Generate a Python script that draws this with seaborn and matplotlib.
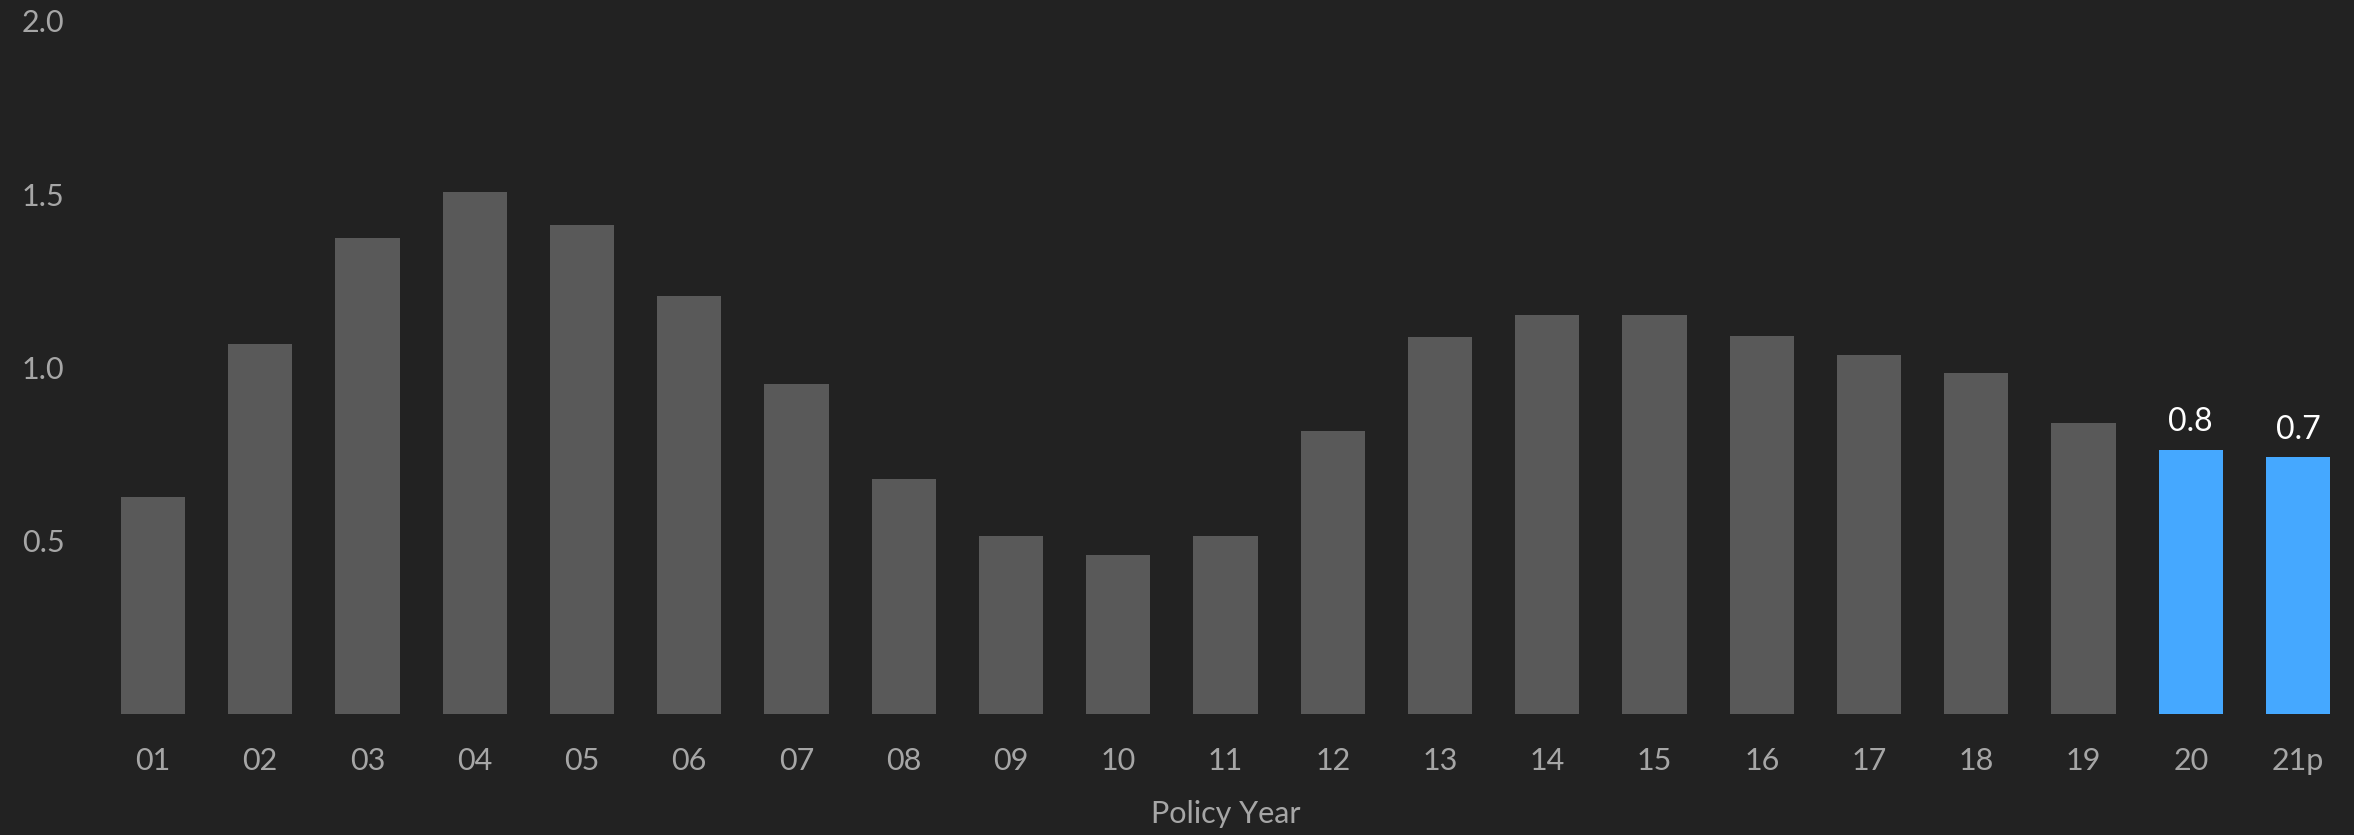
import matplotlib
matplotlib.use("Agg")
import matplotlib.pyplot as plt
import seaborn as sns
import pandas as pd

years = ["01", "02", "03", "04", "05", "06", "07", "08", "09", "10", "11",
         "12", "13", "14", "15", "16", "17", "18", "19", "20", "21p"]
values = [0.626, 1.068, 1.373, 1.505, 1.411, 1.205, 0.951, 0.678, 0.513, 0.457,
          0.513, 0.817, 1.086, 1.151, 1.151, 1.091, 1.035, 0.983, 0.839, 0.762, 0.740]
highlight = [False] * 19 + [True, True]
y_ticks = [0.5, 1.0, 1.5, 2.0]
x_label = "Policy Year"

BG = "#222222"
GRAY = "#595959"
BLUE = "#45A8FF"
TXT = "#A6A6A6"

sns.set_theme(style="dark")
plt.rcParams["font.family"] = ["Lato", "DejaVu Sans"]

df = pd.DataFrame({"year": years, "value": values,
                   "group": ["hi" if h else "base" for h in highlight]})

fig = plt.figure(figsize=(23.54, 8.35), dpi=100, facecolor=BG)
ax = fig.add_axes([0.0422, 0.1455, 0.9568, 0.8295])
ax.set_facecolor(BG)

sns.barplot(data=df, x="year", y="value", hue="group",
            palette={"base": GRAY, "hi": BLUE}, width=0.6, dodge=False,
            saturation=1, legend=False, ax=ax, edgecolor="none", linewidth=0)

for i, (v, h) in enumerate(zip(values, highlight)):
    if h:
        ax.annotate(f"{v:.1f}", (i, v), xytext=(0, 9), textcoords="offset points",
                    ha="center", va="bottom", color="white", fontsize=23)

ax.set_xlim(-0.5, len(years) - 0.5)
ax.set_ylim(0, 2.0)
ax.set_yticks(y_ticks)
ax.set_yticklabels([f"{t:.1f}" for t in y_ticks])
ax.tick_params(axis="both", length=0, colors=TXT, labelsize=22)
ax.tick_params(axis="y", pad=25)
ax.tick_params(axis="x", pad=24)
ax.set_xlabel(x_label, color=TXT, fontsize=22, labelpad=18)
ax.set_ylabel("")
ax.grid(False)
for s in ax.spines.values():
    s.set_visible(False)

fig.savefig("out.png", dpi=100, facecolor=BG)
